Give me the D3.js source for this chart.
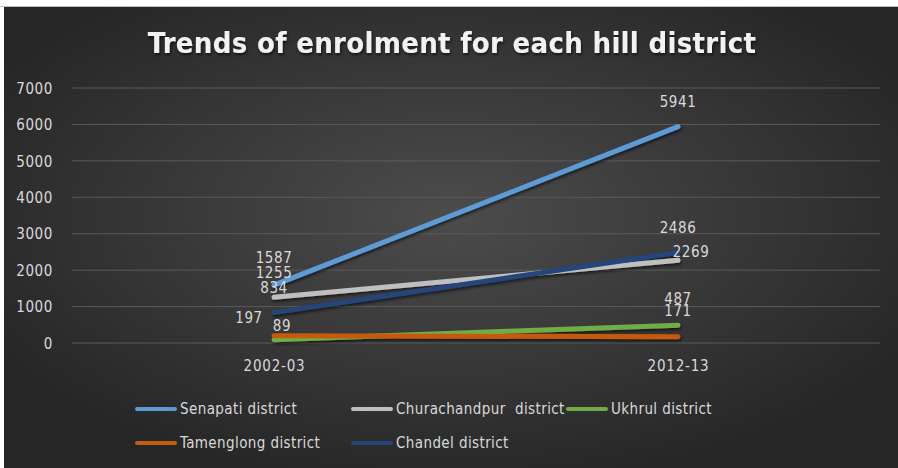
<!DOCTYPE html>
<html><head><meta charset="utf-8">
<script src="https://cdn.jsdelivr.net/npm/d3@7"></script>
<style>
html,body{margin:0;padding:0;background:#ffffff;}
svg{display:block;}
text{font-family:"DejaVu Sans Condensed","DejaVu Sans",sans-serif;}
</style></head>
<body>
<script>
const categories = ["2002-03", "2012-13"];
const seriesNames = ["Senapati district", "Churachandpur  district", "Ukhrul district", "Tamenglong district", "Chandel district"];
const senapati = [1587, 5941];
const churachandpur = [1255, 2269];
const ukhrul = [89, 487];
const tamenglong = [197, 171];
const chandel = [834, 2486];
const yTicks = [0, 1000, 2000, 3000, 4000, 5000, 6000, 7000];
const titleText = "Trends of enrolment for each hill district";

(function () {
const colors = ["#5b9bd5", "#bfbfbf", "#70ad47", "#c55a11", "#264478"];
// label offsets [dx, dy] per series per category
const labelPos = [
  [[0, -27], [0, -25]],
  [[0, -25], [13, -9]],
  [[8, -14], [0, -27]],
  [[-25, -18], [0, -26]],
  [[0, -25], [0, -25]]
];

const series = [senapati, churachandpur, ukhrul, tamenglong, chandel];
const W = 898, H = 468;
const svg = d3.select("body").append("svg").attr("width", W).attr("height", H);
const defs = svg.append("defs");
const rg = defs.append("radialGradient").attr("id", "bg").attr("cx", "50%").attr("cy", "45%").attr("r", "60%");
rg.append("stop").attr("offset", "0%").attr("stop-color", "#4c4c4c");
rg.append("stop").attr("offset", "100%").attr("stop-color", "#262626");
const f = defs.append("filter").attr("id", "sh").attr("x", "-10%").attr("y", "-20%").attr("width", "120%").attr("height", "160%");
f.append("feDropShadow").attr("dx", 1).attr("dy", 2).attr("stdDeviation", 1.5).attr("flood-color", "#000").attr("flood-opacity", 0.6);

svg.append("rect").attr("x", 0).attr("y", 6).attr("width", W).attr("height", 1).attr("fill", "#bdbdbd");
svg.append("rect").attr("x", 4).attr("y", 7).attr("width", W - 4).attr("height", H - 7).attr("fill", "url(#bg)");

const pl = 72, pr = 880, pt = 88, pb = 343;
const x = d3.scalePoint().domain(categories).range([pl, pr]).padding(0.5);
const y = d3.scaleLinear().domain([0, 7000]).range([pb, pt]);

// gridlines
svg.append("g").selectAll("line").data(yTicks).join("line")
  .attr("x1", pl).attr("x2", pr)
  .attr("y1", d => y(d)).attr("y2", d => y(d))
  .attr("stroke", "#5a5a5a").attr("stroke-width", 1);

const fam = "DejaVu Sans Condensed, DejaVu Sans, sans-serif";
// y axis
const yAxis = d3.axisLeft(y).tickValues(yTicks).tickSize(0).tickPadding(0).tickFormat(d3.format("d"));
const yg = svg.append("g").attr("transform", `translate(53,0)`).call(yAxis);
yg.select(".domain").remove();
yg.selectAll("text").attr("fill", "#d9d9d9").attr("font-size", 15).attr("font-family", fam).attr("letter-spacing", 0.6).attr("dy", "0.35em");

// x axis
const xAxis = d3.axisBottom(x).tickSize(0).tickPadding(0);
const xg = svg.append("g").attr("transform", `translate(0,360)`).call(xAxis);
xg.select(".domain").remove();
xg.selectAll("text").attr("fill", "#d9d9d9").attr("font-size", 15).attr("font-family", fam).attr("letter-spacing", 0.8).attr("dy", "0.35em").attr("y", 6);

// lines
const line = d3.line().x((d, i) => x(categories[i])).y(d => y(d));
const lg = svg.append("g").attr("filter", "url(#sh)");
series.forEach((s, k) => {
  lg.append("path").datum(s).attr("d", line).attr("fill", "none")
    .attr("stroke", colors[k]).attr("stroke-width", 5).attr("stroke-linecap", "round");
});

// labels
const lab = svg.append("g");
series.forEach((s, k) => {
  s.forEach((v, i) => {
    const p = labelPos[k][i];
    lab.append("text").attr("x", x(categories[i]) + p[0]).attr("y", y(v) + p[1])
      .attr("text-anchor", "middle").attr("dy", "0.35em")
      .attr("fill", "#d9d9d9").attr("font-size", 15).attr("letter-spacing", 0.6).text(v);
  });
});

// title
svg.append("text").attr("x", 452).attr("y", 43).attr("text-anchor", "middle").attr("dy", "0.35em")
  .attr("fill", "#f2f2f2").attr("font-size", 29).attr("font-weight", "bold").attr("letter-spacing", 0.3)
  .attr("filter", "url(#sh)").text(titleText);

// legend
const legendPos = [[137, 409], [353, 409], [568, 409], [137, 443], [353, 443]];
const leg = svg.append("g");
seriesNames.forEach((n, k) => {
  const [lx, ly] = legendPos[k];
  leg.append("line").attr("x1", lx).attr("x2", lx + 38).attr("y1", ly).attr("y2", ly)
    .attr("stroke", colors[k]).attr("stroke-width", 4).attr("stroke-linecap", "round");
  leg.append("text").attr("x", lx + 43).attr("y", ly).attr("dy", "0.35em")
    .attr("fill", "#d9d9d9").attr("font-size", 15).attr("letter-spacing", 0.4)
    .style("white-space", "pre").text(n);
});
})();
</script>
</body></html>
